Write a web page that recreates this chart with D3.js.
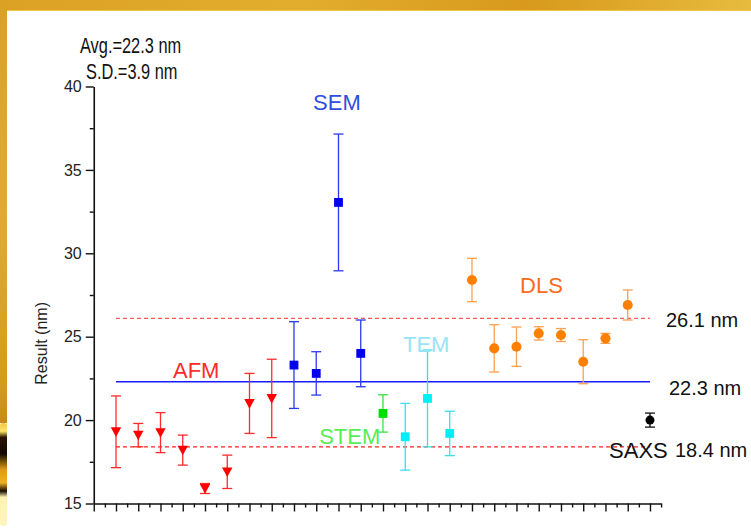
<!DOCTYPE html>
<html>
<head>
<meta charset="utf-8">
<script src="https://cdn.jsdelivr.net/npm/d3@7"></script>
<style>
  html, body { margin: 0; padding: 0; background: #fff; }
  svg { display: block; }
  text { font-family: "Liberation Sans", Arial, sans-serif; }
</style>
</head>
<body>
<script>
// Particle size results by technique (nm): mean values and error half-widths
const afmValues  = [19.3, 19.1, 19.25, 18.2, 15.9, 16.9, 21.0, 21.3];
const afmErrors  = [2.15, 0.7, 1.2, 0.9, 0.3, 1.0, 1.8, 2.35];
const semValues  = [23.3, 22.8, 33.05, 24.0];
const semErrors  = [2.6, 1.3, 4.1, 2.0];
const stemValues = [20.4];
const stemErrors = [1.12];
const temValues  = [19.0, 21.3, 19.2];
const temErrors  = [2.0, 2.9, 1.33];
const dlsValues  = [28.4, 24.3, 24.4, 25.2, 25.1, 23.5, 24.9, 26.9];
const dlsErrors  = [1.3, 1.42, 1.18, 0.4, 0.39, 1.32, 0.3, 0.9];
const saxsValues = [20.0];
const saxsErrors = [0.42];

// Summary statistics and the reference levels drawn across the plot
const average = 22.3;
const stdDev = 3.9;
const refValues = [26.1, 22.3, 18.4];
const refLabels = ["26.1 nm", "22.3 nm", "18.4 nm"];

const yTicks = [15, 20, 25, 30, 35, 40];
const yMinorTicks = [17.5, 22.5, 27.5, 32.5, 37.5];

const W = 751, H = 529;
const svg = d3.select("body").append("svg").attr("width", W).attr("height", H);

// ---- slide frame ----
const defs = svg.append("defs");
const gTop = defs.append("linearGradient").attr("id", "goldTop").attr("x1", "0").attr("x2", "1");
[["0%", "#dba125"], ["40%", "#e2ad2d"], ["70%", "#d8991c"], ["100%", "#e7bb3e"]]
  .forEach(([o, c]) => gTop.append("stop").attr("offset", o).attr("stop-color", c));
const gLeft = defs.append("linearGradient").attr("id", "goldLeft").attr("x1", "0").attr("x2", "0").attr("y1", "0").attr("y2", "1");
[["0%", "#dba125"], ["50%", "#e1ac2e"], ["92%", "#d59a1c"], ["100%", "#c88a12"]]
  .forEach(([o, c]) => gLeft.append("stop").attr("offset", o).attr("stop-color", c));
const gVial = defs.append("linearGradient").attr("id", "vial").attr("x1", "0").attr("x2", "0").attr("y1", "0").attr("y2", "1");
[["0%", "#f2c63c"], ["8%", "#ffe46a"], ["14%", "#2a1402"], ["30%", "#140800"], ["45%", "#e09a10"], ["58%", "#f2b020"], ["66%", "#1a0a00"], ["72%", "#fff2b0"], ["100%", "#fff4c0"]]
  .forEach(([o, c]) => gVial.append("stop").attr("offset", o).attr("stop-color", c));

svg.append("rect").attr("x", 0).attr("y", 0).attr("width", W).attr("height", 10).attr("fill", "url(#goldTop)");
svg.append("rect").attr("x", 0).attr("y", 10).attr("width", W).attr("height", 1).attr("fill", "#f0c64a");
svg.append("rect").attr("x", 0).attr("y", 0).attr("width", 7).attr("height", 423).attr("fill", "url(#goldLeft)");
svg.append("rect").attr("x", 0).attr("y", 423).attr("width", 7).attr("height", 103).attr("rx", 3).attr("fill", "url(#vial)");

// ---- scales ----
const x = d3.scaleLinear().domain([0, 25.5]).range([93.75, 661.1]);
const y = d3.scaleLinear().domain([15, 40]).range([503.5, 86.5]);

// ---- axes ----
const axisG = svg.append("g").attr("class", "axes");
const yAxis = axisG.append("g").attr("transform", `translate(${x(0)},0)`)
  .call(d3.axisLeft(y).tickValues(yTicks).tickSize(8).tickSizeOuter(0).tickPadding(4).tickFormat(d3.format("d")));
axisG.append("g").attr("transform", `translate(${x(0)},0)`)
  .call(d3.axisLeft(y).tickValues(yMinorTicks).tickSize(4).tickSizeOuter(0).tickFormat(""))
  .select(".domain").remove();

const xMajor = d3.range(0, 26);
const xMinor = d3.range(0, 26).map(d => d + 0.5);
axisG.append("g").attr("transform", `translate(0,${y(15)})`)
  .call(d3.axisBottom(x).tickValues(xMajor).tickSize(8).tickSizeOuter(0).tickFormat(""));
axisG.append("g").attr("transform", `translate(0,${y(15)})`)
  .call(d3.axisBottom(x).tickValues(xMinor).tickSize(4).tickSizeOuter(0).tickFormat(""))
  .select(".domain").remove();

axisG.selectAll(".domain").attr("stroke", "#111").attr("stroke-width", 1.6);
axisG.selectAll(".tick line").attr("stroke", "#111").attr("stroke-width", 1.4);
yAxis.selectAll(".tick text").attr("font-size", 16).attr("fill", "#222")
  .attr("font-family", "'Liberation Sans', Arial, sans-serif");

svg.append("text")
  .attr("transform", `translate(47,${y(24.6)}) rotate(-90)`)
  .attr("text-anchor", "middle")
  .attr("font-size", 16).attr("fill", "#222")
  .text("Result (nm)");

// ---- reference lines (mean and ±1 SD) ----
const refStyles = [
  { color: "#ff5a5a", dash: "4,3", width: 1.2 },
  { color: "#1a1aff", dash: null, width: 1.3 },
  { color: "#ff2020", dash: "4,3", width: 1.2 }
];
refValues.forEach((v, i) => {
  svg.append("line")
    .attr("x1", x(1)).attr("x2", x(25))
    .attr("y1", y(v)).attr("y2", y(v))
    .attr("stroke", refStyles[i].color)
    .attr("stroke-width", refStyles[i].width)
    .attr("stroke-dasharray", refStyles[i].dash);
});

// ---- series ----
let pos = 1;
function series(values, errors) {
  return values.map((v, i) => ({ pos: pos++, v, e: errors[i] }));
}
const groups = [
  { name: "AFM",  data: series(afmValues, afmErrors),   bar: "#ff2a2a", fill: "#ff0000", shape: "tri" },
  { name: "SEM",  data: series(semValues, semErrors),   bar: "#2a3af0", fill: "#0000f0", shape: "sq" },
  { name: "STEM", data: series(stemValues, stemErrors), bar: "#3ee03e", fill: "#00dd00", shape: "sq" },
  { name: "TEM",  data: series(temValues, temErrors),   bar: "#38e0ec", fill: "#00eef5", shape: "sq" },
  { name: "DLS",  data: series(dlsValues, dlsErrors),   bar: "#ffa050", fill: "#ff8000", shape: "circ" },
  { name: "SAXS", data: series(saxsValues, saxsErrors), bar: "#111111", fill: "#000000", shape: "circ" }
];

const downTriangle = {
  draw(ctx, size) {
    const s = Math.sqrt(size);
    ctx.moveTo(-s / 2, -s * 0.42);
    ctx.lineTo(s / 2, -s * 0.42);
    ctx.lineTo(0, s * 0.5);
    ctx.closePath();
  }
};

const cap = 5;
groups.forEach(g => {
  const gg = svg.append("g").attr("class", g.name);
  const pts = gg.selectAll("g.pt").data(g.data).join("g").attr("class", "pt");
  pts.append("line")
    .attr("x1", d => x(d.pos)).attr("x2", d => x(d.pos))
    .attr("y1", d => y(d.v + d.e)).attr("y2", d => y(d.v - d.e))
    .attr("stroke", g.bar).attr("stroke-width", 1.3);
  pts.append("line")
    .attr("x1", d => x(d.pos) - cap).attr("x2", d => x(d.pos) + cap)
    .attr("y1", d => y(d.v + d.e)).attr("y2", d => y(d.v + d.e))
    .attr("stroke", g.bar).attr("stroke-width", 1.3);
  pts.append("line")
    .attr("x1", d => x(d.pos) - cap).attr("x2", d => x(d.pos) + cap)
    .attr("y1", d => y(d.v - d.e)).attr("y2", d => y(d.v - d.e))
    .attr("stroke", g.bar).attr("stroke-width", 1.3);
  let sym;
  if (g.shape === "tri") sym = d3.symbol().type(downTriangle).size(110);
  else if (g.shape === "sq") sym = d3.symbol().type(d3.symbolSquare).size(78);
  else sym = d3.symbol().type(d3.symbolCircle).size(g.name === "SAXS" ? 64 : 80);
  pts.append("path")
    .attr("transform", d => `translate(${x(d.pos)},${y(d.v)})`)
    .attr("d", sym())
    .attr("fill", g.fill);
});

// ---- annotations ----
const catLabels = [
  { t: "SEM",  px: x(10.93), py: 110, anchor: "middle", color: "#2f4fdc" },
  { t: "AFM",  px: x(3.56),  py: 378, anchor: "start",  color: "#ff2a2a" },
  { t: "STEM", px: x(10.13), py: 444, anchor: "start",  color: "#55ee55" },
  { t: "TEM",  px: x(13.9),  py: 352, anchor: "start",  color: "#96e4f4" },
  { t: "DLS",  px: x(19.16), py: 293, anchor: "start",  color: "#ff6a1a" },
  { t: "SAXS", px: x(23.16), py: 458, anchor: "start",  color: "#111111" }
];
catLabels.forEach(l => {
  svg.append("text").attr("x", l.px).attr("y", l.py)
    .attr("text-anchor", l.anchor).attr("font-size", 22).attr("fill", l.color).text(l.t);
});

const refLabelPos = [{ px: 666, py: 327 }, { px: 669, py: 395 }, { px: 675, py: 457 }];
refLabels.forEach((t, i) => {
  svg.append("text").attr("x", refLabelPos[i].px).attr("y", refLabelPos[i].py)
    .attr("font-size", 20).attr("fill", "#111").text(t);
});

// Condensed summary text in the top-left corner
const stats = [`Avg.=${average} nm`, `S.D.=${stdDev} nm`];
[[80, 53], [86, 79]].forEach(([px, py], i) => {
  svg.append("text").attr("transform", `translate(${px},${py}) scale(0.745,1)`)
    .attr("font-size", 22).attr("fill", "#111").text(stats[i]);
});
</script>
</body>
</html>
